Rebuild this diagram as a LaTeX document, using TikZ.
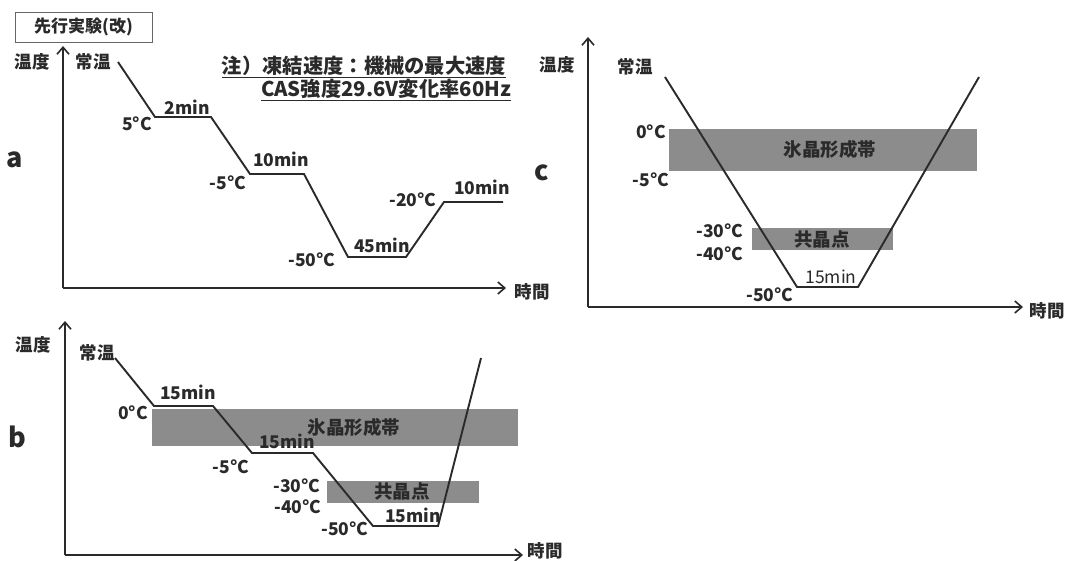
\documentclass[tikz,border=0pt]{standalone}
\usepackage{fontspec}
\setmainfont{Noto Sans CJK JP}
\usetikzlibrary{arrows.meta}
\definecolor{ink}{HTML}{2A2A2A}
\definecolor{band}{HTML}{8C8C8C}
\begin{document}
\begin{tikzpicture}[x=1pt,y=-1pt,
  lbl/.style={font=\fontsize{17.5}{19}\selectfont\bfseries, text=ink, inner sep=0pt},
  thin lbl/.style={font=\fontsize{17.5}{19}\selectfont, text=ink, inner sep=0pt},
  bandtxt/.style={font=\fontsize{18.5}{20}\selectfont\bfseries, text=ink, inner sep=0pt},
  big/.style={font=\fontsize{27}{29}\selectfont\bfseries, text=ink, inner sep=0pt},
  note/.style={font=\fontsize{20.3}{22}\selectfont\bfseries, text=ink, inner sep=0pt},
  axis/.style={line width=1.6pt, draw=ink, -{Straight Barb[length=7pt,width=12pt,line width=1.6pt]}},
  curve/.style={line width=1.9pt, draw=ink, line join=miter},
  bandbox/.style={fill=band, draw=none},
  titlebox/.style={draw=black!60, line width=0.8pt, minimum width=137pt, minimum height=30pt, inner sep=0pt, font=\fontsize{17}{19}\selectfont\bfseries, text=ink}]
\useasboundingbox (0,0) rectangle (1067,560);
\fill[white] (0,0) rectangle (1067,560);

% ---------- title ----------
\node[titlebox] (title) at (83.5,27) {先行実験(改)};

% ---------- panel a ----------
\node[big] (la) at (15,160) {a};
\coordinate (aO) at (63,288);
\coordinate (aY) at (63,46);
\coordinate (aX) at (506,288);
\draw[axis] (aO) -- (aY);
\draw[axis] (aO) -- (aX);
\node[lbl] (aTy) at (32,62) {温度};
\node[lbl] (aTx) at (532,292) {時間};
\node[lbl] (aRT) at (93,62) {常温};
\coordinate (a0) at (118,62);
\coordinate (a1) at (155,117);
\coordinate (a2) at (211,117);
\coordinate (a3) at (250,174);
\coordinate (a4) at (304,174);
\coordinate (a5) at (348,257);
\coordinate (a6) at (406,257);
\coordinate (a7) at (444,202);
\coordinate (a8) at (503,202);
\draw[curve] (a0) -- (a1) -- (a2) -- (a3) -- (a4) -- (a5) -- (a6) -- (a7) -- (a8);
\node[lbl] (a5C) at (137,124) {5°C};
\node[lbl] (a2m) at (187,107) {2min};
\node[lbl] (am5C) at (228,183) {-5°C};
\node[lbl] (a10m) at (281,159) {10min};
\node[lbl] (am50C) at (312,260) {-50°C};
\node[lbl] (a45m) at (382,245) {45min};
\node[lbl] (am20C) at (413,200) {-20°C};
\node[lbl] (a10mb) at (482,187) {10min};
\node[note] (n1) at (364,67) {\underline{注）凍結速度：機械の最大速度}};
\node[note] (n2) at (386,90) {\underline{CAS強度29.6V変化率60Hz}};

% ---------- panel b ----------
\node[big] (lb) at (17,437) {b};
\fill[bandbox] (152,409) rectangle (518,446);
\fill[bandbox] (327,481) rectangle (479,503);
\node[bandtxt] (bIce) at (354,427) {氷晶形成帯};
\node[bandtxt] (bEut) at (402,491) {共晶点};
\coordinate (bO) at (65,555);
\coordinate (bY) at (65,321);
\coordinate (bX) at (523,555);
\draw[axis] (bO) -- (bY);
\draw[axis] (bO) -- (bX);
\node[lbl] (bTy) at (33,345) {温度};
\node[lbl] (bTx) at (545,551) {時間};
\node[lbl] (bRT) at (97,353) {常温};
\coordinate (b0) at (115,358);
\coordinate (b1) at (154,406);
\coordinate (b2) at (213,406);
\coordinate (b3) at (252,453);
\coordinate (b4) at (313,453);
\coordinate (b5) at (373,526);
\coordinate (b6) at (438,526);
\coordinate (b7) at (481,358);
\draw[curve] (b0) -- (b1) -- (b2) -- (b3) -- (b4) -- (b5) -- (b6) -- (b7);
\node[lbl] (b0C) at (133,413) {0°C};
\node[lbl] (b15a) at (188,392) {15min};
\node[lbl] (bm5C) at (231,467) {-5°C};
\node[lbl] (b15b) at (287,441) {15min};
\node[lbl] (bm30C) at (297,486) {-30°C};
\node[lbl] (bm40C) at (298,507) {-40°C};
\node[lbl] (bm50C) at (345,529) {-50°C};
\node[lbl] (b15c) at (413,515) {15min};

% ---------- panel c ----------
\node[big] (lc) at (542,173) {c};
\fill[bandbox] (669,129) rectangle (977,171);
\fill[bandbox] (752,228) rectangle (893,250);
\node[bandtxt] (cIce) at (830,149) {氷晶形成帯};
\node[bandtxt] (cEut) at (822,239) {共晶点};
\coordinate (cO) at (588,307);
\coordinate (cY) at (588,37);
\coordinate (cX) at (1023,307);
\draw[axis] (cO) -- (cY);
\draw[axis] (cO) -- (cX);
\node[lbl] (cTy) at (557,65) {温度};
\node[lbl] (cTx) at (1047,311) {時間};
\node[lbl] (cRT) at (635,67) {常温};
\coordinate (c0) at (665,77);
\coordinate (c1) at (797,287);
\coordinate (c2) at (858,287);
\coordinate (c3) at (979,77);
\draw[curve] (c0) -- (c1) -- (c2) -- (c3);
\node[lbl] (c0C) at (651,132) {0°C};
\node[lbl] (cm5C) at (651,180) {-5°C};
\node[lbl] (cm30C) at (720,231) {-30°C};
\node[lbl] (cm40C) at (720,254) {-40°C};
\node[thin lbl] (c15) at (831,277) {15min};
\node[lbl] (cm50C) at (770,295) {-50°C};
\end{tikzpicture}
\end{document}
